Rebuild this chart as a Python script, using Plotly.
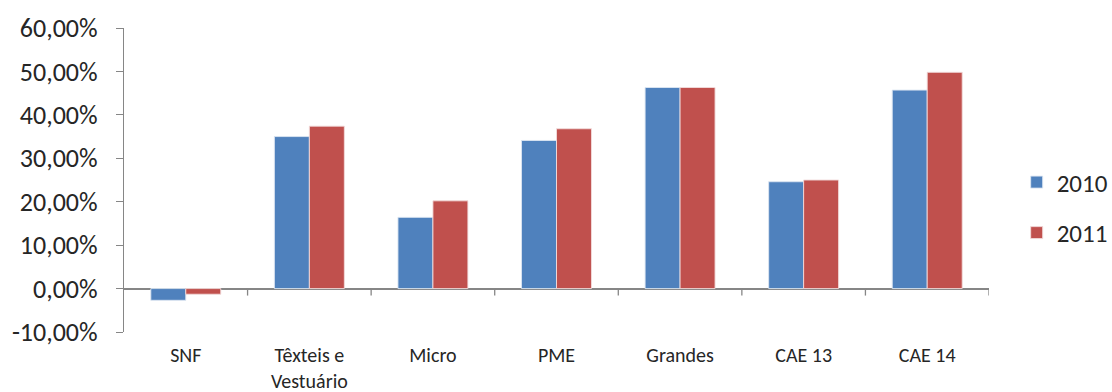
import plotly.graph_objects as go

# Categories and yearly values (percent)
categories = ["SNF", "Têxteis e<br>Vestuário", "Micro", "PME", "Grandes", "CAE 13", "CAE 14"]
values_2010 = [-2.7, 35.0, 16.4, 34.1, 46.3, 24.6, 45.7]
values_2011 = [-1.3, 37.4, 20.2, 36.8, 46.3, 25.0, 49.8]

y_ticks = [-10, 0, 10, 20, 30, 40, 50, 60]
y_ticktext = [f"{v:.2f}".replace(".", ",") + "%" for v in y_ticks]

FONT = "Carlito, Liberation Sans Narrow, Liberation Sans, sans-serif"
AXIS_COLOR = "#868686"
TEXT_COLOR = "#262626"

fig = go.Figure()
fig.add_trace(go.Bar(
    name="2010", x=categories, y=values_2010, legendgroup="a",
    marker=dict(color="#4F81BD", line=dict(color="rgba(220,230,242,0.9)", width=1)),
))
fig.add_trace(go.Bar(
    name="2011", x=categories, y=values_2011, legendgroup="b",
    marker=dict(color="#C0504D", line=dict(color="rgba(242,220,219,0.9)", width=1)),
))

# Category boundary tick marks sitting on the zero line
shapes = []
for i in range(len(categories)):
    shapes.append(dict(
        type="line", xref="x", yref="y", ysizemode="pixel", yanchor=0,
        x0=i + 0.5, x1=i + 0.5, y0=0, y1=-7,
        line=dict(color=AXIS_COLOR, width=1.3),
    ))

fig.update_layout(
    width=1112, height=392,
    margin=dict(l=124, r=123, t=28, b=60, autoexpand=False),
    paper_bgcolor="white", plot_bgcolor="white",
    barmode="group", bargap=0.434, bargroupgap=0,
    font=dict(family=FONT, color=TEXT_COLOR),
    showlegend=True,
    legend=dict(
        x=1.032, xanchor="left", y=0.41, yanchor="middle",
        font=dict(size=25, family=FONT, color=TEXT_COLOR),
        tracegroupgap=15, itemwidth=30,
        bgcolor="rgba(0,0,0,0)",
    ),
    shapes=shapes,
)
fig.update_xaxes(
    showline=False, showgrid=False, zeroline=False, ticks="",
    tickfont=dict(size=20, family=FONT, color=TEXT_COLOR),
    ticklabelstandoff=9,
    range=[-0.5, len(categories) - 0.5],
)
fig.update_yaxes(
    range=[-10, 60], tickvals=y_ticks, ticktext=y_ticktext,
    showline=True, linecolor=AXIS_COLOR, linewidth=1.3,
    ticks="outside", ticklen=7, tickcolor=AXIS_COLOR, tickwidth=1.3,
    showgrid=False, zeroline=True, zerolinecolor=AXIS_COLOR, zerolinewidth=1.5,
    tickfont=dict(size=26, family=FONT, color=TEXT_COLOR),
    ticklabelstandoff=13,
)

fig.write_html("out.html")
